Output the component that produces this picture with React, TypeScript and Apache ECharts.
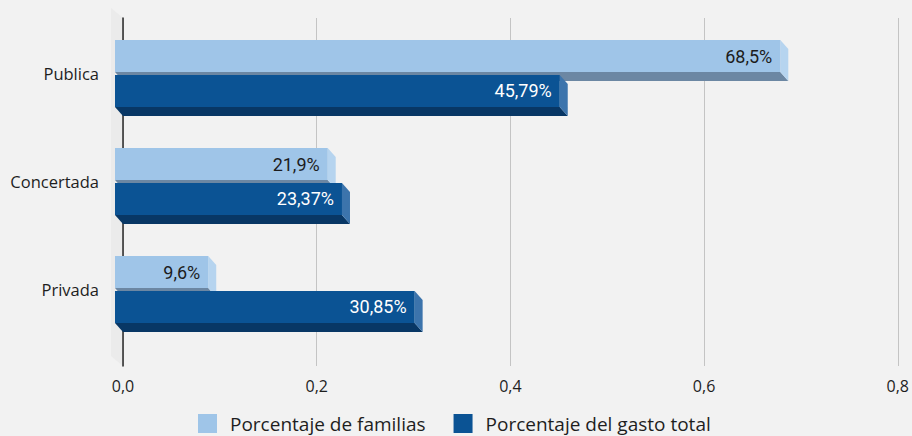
import React, { useEffect, useRef } from "react";
import * as echarts from "echarts";

const categories = ["Publica", "Concertada", "Privada"];
const seriesNames = ["Porcentaje de familias", "Porcentaje del gasto total"];
const familias = [0.685, 0.219, 0.096];
const gasto = [0.4579, 0.2337, 0.3085];
const xTicks = { min: 0, max: 0.8, interval: 0.2 };

const faceColors = [
  { front: "#9fc5e8", bottom: "#6c87a3", side: "#b6d4ef", label: "#1c1c1c" },
  { front: "#0b5394", bottom: "#083765", side: "#3c74ac", label: "#ffffff" },
];

const fmtPct = (v: number) =>
  String(parseFloat((v * 100).toFixed(2))).replace(".", ",") + "%";

function makeRender(seriesIdx: number) {
  const c = faceColors[seriesIdx];
  return (params: any, api: any) => {
    const v = api.value(0);
    const ci = api.value(1);
    const [xv, yc] = api.coord([v, ci]);
    const [x0] = api.coord([0, ci]);
    const band = api.size([0, 1])[1];
    const barH = band * 0.296;
    const gap = band * 0.014;
    const dx = 8;
    const dy = 9;
    const ft = seriesIdx === 0 ? yc - gap - barH : yc + gap;
    const fb = ft + barH;
    const fl = x0 - dx;
    const fr = xv - dx;
    return {
      type: "group",
      children: [
        {
          type: "polygon",
          shape: { points: [[fl, fb], [fr, fb], [xv, fb + dy], [x0, fb + dy]] },
          style: { fill: c.bottom },
        },
        {
          type: "polygon",
          shape: { points: [[fr, ft], [xv, ft + dy], [xv, fb + dy], [fr, fb]] },
          style: { fill: c.side },
        },
        {
          type: "rect",
          shape: { x: fl, y: ft, width: fr - fl, height: barH },
          style: { fill: c.front },
        },
        {
          type: "text",
          style: {
            x: fr - 8,
            y: (ft + fb) / 2,
            text: fmtPct(v),
            align: "right",
            verticalAlign: "middle",
            fill: c.label,
            font: "18px Roboto",
          },
        },
      ],
    };
  };
}

export default function App() {
  const ref = useRef<HTMLDivElement>(null);
  useEffect(() => {
    const chart = echarts.init(ref.current!, undefined, { renderer: "svg" });
    const option: any = {
      animation: false,
      backgroundColor: "#f2f2f2",
      graphic: [
        {
          type: "polygon",
          shape: { points: [[111, 8], [123, 18], [123, 366], [111, 356]] },
          style: { fill: "#ebebeb" },
          z: -1,
        },
      ],
      grid: [
        { left: 123, right: 12, top: 18, bottom: 70 },
        { left: 123, right: 12, top: 19.5, bottom: 92.5 },
      ],
      xAxis: [
        {
          gridIndex: 0,
          type: "value",
          min: xTicks.min,
          max: xTicks.max,
          interval: xTicks.interval,
          axisLine: { show: false },
          axisTick: { show: false },
          splitLine: { show: true, lineStyle: { color: "#c4c4c4", width: 1 } },
          axisLabel: {
            margin: 12,
            color: "#1e1e1e",
            fontFamily: "Open Sans",
            fontSize: 16,
            formatter: (v: number) => v.toFixed(1).replace(".", ","),
          },
        },
        {
          gridIndex: 1,
          type: "value",
          min: xTicks.min,
          max: xTicks.max,
          interval: xTicks.interval,
          show: false,
        },
      ],
      yAxis: [
        {
          gridIndex: 0,
          type: "value",
          min: 0,
          max: 1,
          axisLine: { show: true, lineStyle: { color: "#2a2a2a", width: 1.5 } },
          axisTick: { show: false },
          axisLabel: { show: false },
          splitLine: { show: false },
        },
        {
          gridIndex: 1,
          type: "category",
          inverse: true,
          data: categories,
          axisLine: { show: false },
          axisTick: { show: false },
          axisLabel: {
            margin: 24,
            color: "#1e1e1e",
            fontFamily: "Open Sans",
            fontSize: 16.5,
          },
        },
      ],
      legend: {
        left: 193,
        top: 409,
        padding: 5,
        itemWidth: 19,
        itemHeight: 19,
        itemGap: 28,
        icon: "rect",
        textStyle: {
          fontFamily: "Open Sans",
          fontSize: 19,
          lineHeight: 19,
          color: "#1e1e1e",
          padding: [0, 0, 0, 8],
        },
        data: seriesNames.map((n, i) => ({
          name: n,
          itemStyle: { color: faceColors[i].front },
        })),
      },
      series: [familias, gasto].map((vals, si) => ({
        type: "custom",
        name: seriesNames[si],
        xAxisIndex: 1,
        yAxisIndex: 1,
        itemStyle: { color: faceColors[si].front },
        encode: { x: 0, y: 1 },
        data: vals.map((v, i) => [v, i]),
        renderItem: makeRender(si),
      })),
    };
    chart.setOption(option);
    return () => chart.dispose();
  }, []);
  return (
    <div
      ref={ref}
      style={{ position: "fixed", left: 0, top: 0, width: 912, height: 436 }}
    />
  );
}
